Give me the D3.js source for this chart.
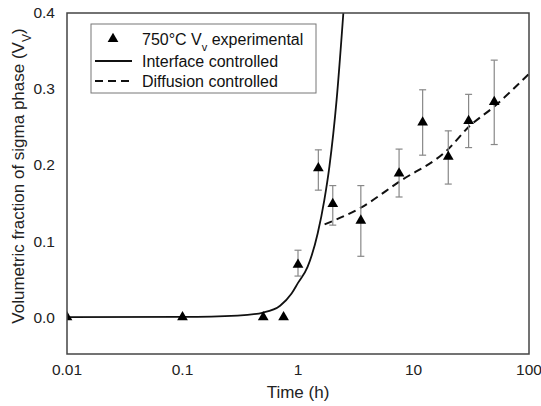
<!DOCTYPE html>
<html>
<head>
<meta charset="utf-8">
<script src="https://cdn.jsdelivr.net/npm/d3@7"></script>
<style>
  body { margin: 0; background: #fff; }
  svg { font-family: "Liberation Sans", Arial, sans-serif; }
</style>
</head>
<body>
<div id="chart"></div>
<script>
// --- data ---
const expTime  = [0.01, 0.1, 0.5, 0.75, 1.0, 1.5, 2.0, 3.5, 7.5, 12, 20, 30, 50];
const expVv    = [0, 0, 0, 0, 0.069, 0.196, 0.149, 0.127, 0.189, 0.256, 0.211, 0.258, 0.283];
const expLow   = [null, null, null, null, 0.054, 0.167, 0.121, 0.080, 0.158, 0.213, 0.175, 0.223, 0.227];
const expHigh  = [null, null, null, null, 0.088, 0.220, 0.173, 0.173, 0.221, 0.299, 0.245, 0.293, 0.338];

const ifTime = [0.01, 0.1, 0.3, 0.5, 0.7, 0.88, 1.0, 1.21, 1.48, 1.69, 1.87, 2.16, 2.47];
const ifVv   = [0, 0.0003, 0.002, 0.006, 0.015, 0.031, 0.045, 0.066, 0.110, 0.154, 0.198, 0.286, 0.40];

const dfTime = [1.7, 3.5, 7.5, 20, 30, 50, 100];
const dfVv   = [0.122, 0.144, 0.178, 0.221, 0.250, 0.277, 0.320];

const xTicks = [0.01, 0.1, 1, 10, 100];
const yTicks = [0, 0.1, 0.2, 0.3, 0.4];

// --- sizing ---
const W = 541, H = 406;
const margin = { top: 13, right: 12, bottom: 52, left: 67 },
      width  = W - margin.left - margin.right,
      height = H - margin.top - margin.bottom;

const svg = d3.select("#chart").append("svg")
  .attr("width", W).attr("height", H);

const g = svg.append("g")
  .attr("transform", `translate(${margin.left},${margin.top})`);

const x = d3.scaleLog().domain([0.01, 100]).range([0, width]);
const y = d3.scaleLinear().domain([-0.0485, 0.4]).range([height, 0]);

g.append("clipPath").attr("id", "clip")
  .append("rect").attr("width", width).attr("height", height);

// tick labels (no tick marks in the original)
g.selectAll(".xt").data(xTicks).enter().append("text")
  .attr("x", d => x(d)).attr("y", height + 21)
  .attr("text-anchor", "middle")
  .style("font-size", "15.5px").attr("fill", "#222")
  .text(d => d3.format("")(d));

g.selectAll(".yt").data(yTicks).enter().append("text")
  .attr("x", -12).attr("y", d => y(d)).attr("dy", "0.35em")
  .attr("text-anchor", "end")
  .style("font-size", "15.5px").attr("fill", "#222")
  .text(d => d3.format(".1f")(d));

// axis titles
g.append("text")
  .attr("x", x(1)).attr("y", height + 44)
  .attr("text-anchor", "middle")
  .style("font-size", "17px").attr("fill", "#222")
  .text("Time (h)");

const yt = svg.append("text")
  .attr("transform", "translate(24,176) rotate(-90)")
  .attr("text-anchor", "middle")
  .style("font-size", "17px").attr("fill", "#222");
yt.append("tspan").text("Volumetric fraction of sigma phase (V");
yt.append("tspan").attr("baseline-shift", "sub").style("font-size", "12px").text("V");
yt.append("tspan").text(")");

const plot = g.append("g").attr("clip-path", "url(#clip)");

// lines
const line = d3.line()
  .x(d => x(d[0])).y(d => y(d[1]))
  .curve(d3.curveMonotoneX);

plot.append("path")
  .attr("d", line(d3.zip(ifTime, ifVv)))
  .attr("fill", "none").attr("stroke", "#111").attr("stroke-width", 1.8);

plot.append("path")
  .attr("d", line(d3.zip(dfTime, dfVv)))
  .attr("fill", "none").attr("stroke", "#111").attr("stroke-width", 2)
  .attr("stroke-dasharray", "8,5");

// error bars
const pts = expTime.map((t, i) => ({ t, v: expVv[i], lo: expLow[i], hi: expHigh[i] }));
const eb = plot.selectAll(".eb").data(pts.filter(d => d.lo !== null)).enter().append("g")
  .attr("stroke", "#888").attr("stroke-width", 1.2);
eb.append("line")
  .attr("x1", d => x(d.t)).attr("x2", d => x(d.t))
  .attr("y1", d => y(d.lo)).attr("y2", d => y(d.hi));
eb.append("line")
  .attr("x1", d => x(d.t) - 3.5).attr("x2", d => x(d.t) + 3.5)
  .attr("y1", d => y(d.lo)).attr("y2", d => y(d.lo));
eb.append("line")
  .attr("x1", d => x(d.t) - 3.5).attr("x2", d => x(d.t) + 3.5)
  .attr("y1", d => y(d.hi)).attr("y2", d => y(d.hi));

// triangles
const tri = d3.symbol().type(d3.symbolTriangle).size(50);
plot.selectAll(".pt").data(pts).enter().append("path")
  .attr("d", tri)
  .attr("transform", d => `translate(${x(d.t)},${y(d.v)})`)
  .attr("fill", "#000");

// frame
g.append("rect")
  .attr("width", width).attr("height", height)
  .attr("fill", "none").attr("stroke", "#444").attr("stroke-width", 1.5);

// legend
const lg = g.append("g").attr("transform", "translate(24,11)");
lg.append("rect")
  .attr("width", 225).attr("height", 69)
  .attr("fill", "#fff").attr("stroke", "#777").attr("stroke-width", 1);

const ly = [15, 37, 57];
lg.append("path").attr("d", tri)
  .attr("transform", `translate(22,${ly[0]})`).attr("fill", "#000");
const t1 = lg.append("text").attr("x", 51).attr("y", ly[0]).attr("dy", "0.35em")
  .style("font-size", "16px").attr("fill", "#111");
t1.append("tspan").text("750°C V");
t1.append("tspan").attr("baseline-shift", "sub").style("font-size", "11px").text("v");
t1.append("tspan").text(" experimental");

lg.append("line").attr("x1", 4).attr("x2", 41).attr("y1", ly[1]).attr("y2", ly[1])
  .attr("stroke", "#111").attr("stroke-width", 1.8);
lg.append("text").attr("x", 51).attr("y", ly[1]).attr("dy", "0.35em")
  .style("font-size", "16px").attr("fill", "#111").text("Interface controlled");

lg.append("line").attr("x1", 4).attr("x2", 41).attr("y1", ly[2]).attr("y2", ly[2])
  .attr("stroke", "#111").attr("stroke-width", 2).attr("stroke-dasharray", "8,5");
lg.append("text").attr("x", 51).attr("y", ly[2]).attr("dy", "0.35em")
  .style("font-size", "16px").attr("fill", "#111").text("Diffusion controlled");
</script>
</body>
</html>
